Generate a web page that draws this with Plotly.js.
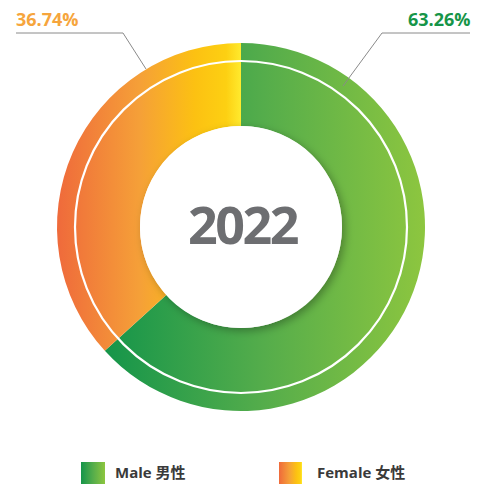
<!DOCTYPE html>
<html>
<head>
<meta charset="utf-8">
<script src="https://cdn.plot.ly/plotly-3.0.1.min.js"></script>
<style>
html,body{margin:0;padding:0;background:#fff;}
#chart{width:480px;height:484px;}
</style>
</head>
<body>
<svg width="0" height="0" style="position:absolute">
  <defs>
    <linearGradient id="gMale" x1="0" y1="0" x2="1" y2="0">
      <stop offset="0" stop-color="#15954a"/>
      <stop offset="0.5" stop-color="#55ad4b"/>
      <stop offset="1" stop-color="#8dc63f"/>
    </linearGradient>
    <linearGradient id="gFemale" x1="0" y1="0" x2="1" y2="0">
      <stop offset="0" stop-color="#ef6a3b"/>
      <stop offset="0.45" stop-color="#f5a038"/>
      <stop offset="0.75" stop-color="#fcc112"/>
      <stop offset="0.92" stop-color="#fdd012"/>
      <stop offset="1" stop-color="#ffea2e"/>
    </linearGradient>
    <filter id="holeShadow" x="-20%" y="-20%" width="150%" height="150%">
      <feDropShadow dx="3" dy="3" stdDeviation="4" flood-color="#000" flood-opacity="0.3"/>
    </filter>
  </defs>
</svg>
<div id="chart"></div>
<script>
// ---- data ----
var categories = ["Male", "Female"];
var categoriesZh = ["男性", "女性"];
var values = [63.26, 36.74];
var year = "2022";
var baseColors = ["#4caa4a", "#f7a034"];
var labelColors = ["#169548", "#f6a53c"];
var gradIds = ["gMale", "gFemale"];

// ---- helpers (pixel -> paper) ----
var W = 480, H = 484;
function px(x){ return x / W; }
function py(y){ return 1 - y / H; }

var cx = 241, cy = 227, R = 184, holeR = 101, ringR = 166;

var trace = {
  type: "pie",
  values: values,
  labels: categories,
  sort: false,
  direction: "clockwise",
  rotation: 0,
  hole: holeR / R,
  textinfo: "none",
  hoverinfo: "label+percent",
  marker: { colors: baseColors, line: { width: 0 } },
  domain: { x: [px(cx - R), px(cx + R)], y: [py(cy + R), py(cy - R)] },
  showlegend: false
};

var shapes = [
  // shadowed hole disc (index 0)
  { type: "circle", xref: "paper", yref: "paper", layer: "above",
    x0: px(cx - holeR), x1: px(cx + holeR), y0: py(cy + holeR), y1: py(cy - holeR),
    fillcolor: "#ffffff", line: { width: 0 } },
  // white inner ring line (index 1)
  { type: "circle", xref: "paper", yref: "paper", layer: "above",
    x0: px(cx - ringR), x1: px(cx + ringR), y0: py(cy + ringR), y1: py(cy - ringR),
    fillcolor: "rgba(0,0,0,0)", line: { color: "#ffffff", width: 2.2 } },
  // leader line for Female (left)
  { type: "path", xref: "paper", yref: "paper", layer: "above",
    path: "M" + px(16) + "," + py(33) + " L" + px(123) + "," + py(33) + " L" + px(146) + "," + py(69),
    line: { color: "#8a8a8a", width: 1 } },
  // leader line for Male (right)
  { type: "path", xref: "paper", yref: "paper", layer: "above",
    path: "M" + px(343) + "," + py(86) + " L" + px(382) + "," + py(33) + " L" + px(470) + "," + py(33),
    line: { color: "#8a8a8a", width: 1 } },
  // legend swatches (index 4,5)
  { type: "rect", xref: "paper", yref: "paper", layer: "above",
    x0: px(81), x1: px(105), y0: py(485), y1: py(462), fillcolor: baseColors[0], line: { width: 0 } },
  { type: "rect", xref: "paper", yref: "paper", layer: "above",
    x0: px(279), x1: px(302), y0: py(485), y1: py(462), fillcolor: baseColors[1], line: { width: 0 } }
];

var fontFam = "'Open Sans', 'Noto Sans CJK SC', sans-serif";
var annotations = [
  { xref: "paper", yref: "paper", x: px(cx + 1), y: py(cy - 4), xanchor: "center", yanchor: "middle",
    text: year, showarrow: false,
    font: { family: fontFam, size: 52, color: "#6d6e71", weight: "bold" } },
  { xref: "paper", yref: "paper", x: px(14), y: py(19), xanchor: "left", yanchor: "middle",
    text: values[1].toFixed(2) + "%", showarrow: false,
    font: { family: fontFam, size: 18, color: labelColors[1], weight: "bold" } },
  { xref: "paper", yref: "paper", x: px(473), y: py(19), xanchor: "right", yanchor: "middle",
    text: values[0].toFixed(2) + "%", showarrow: false,
    font: { family: fontFam, size: 18, color: labelColors[0], weight: "bold" } },
  { xref: "paper", yref: "paper", x: px(113), y: py(472), xanchor: "left", yanchor: "middle",
    text: categories[0] + " " + categoriesZh[0], showarrow: false,
    font: { family: fontFam, size: 15, color: "#3a3a3a", weight: "bold" } },
  { xref: "paper", yref: "paper", x: px(315), y: py(472), xanchor: "left", yanchor: "middle",
    text: categories[1] + " " + categoriesZh[1], showarrow: false,
    font: { family: fontFam, size: 15, color: "#3a3a3a", weight: "bold" } }
];

var layout = {
  width: W, height: H,
  margin: { l: 0, r: 0, t: 0, b: 0, pad: 0 },
  paper_bgcolor: "#ffffff",
  showlegend: false,
  shapes: shapes,
  annotations: annotations
};

function applyGradients(){
  var slices = document.querySelectorAll("#chart .slice path.surface");
  slices.forEach(function(p, i){
    if (gradIds[i]) p.style.fill = "url(#" + gradIds[i] + ")";
  });
  var hole = document.querySelector('#chart .shapelayer path[data-index="0"]');
  if (hole) hole.style.filter = "url(#holeShadow)";
  var s4 = document.querySelector('#chart .shapelayer path[data-index="4"]');
  var s5 = document.querySelector('#chart .shapelayer path[data-index="5"]');
  if (s4) s4.style.fill = "url(#gMale)";
  if (s5) s5.style.fill = "url(#gFemale)";
  var yearText = document.querySelector('#chart .annotation[data-index="0"] text.annotation-text');
  if (yearText) yearText.style.letterSpacing = "-2.5px";
}

Plotly.newPlot("chart", [trace], layout, { displayModeBar: false, staticPlot: true }).then(applyGradients);
</script>
</body>
</html>
